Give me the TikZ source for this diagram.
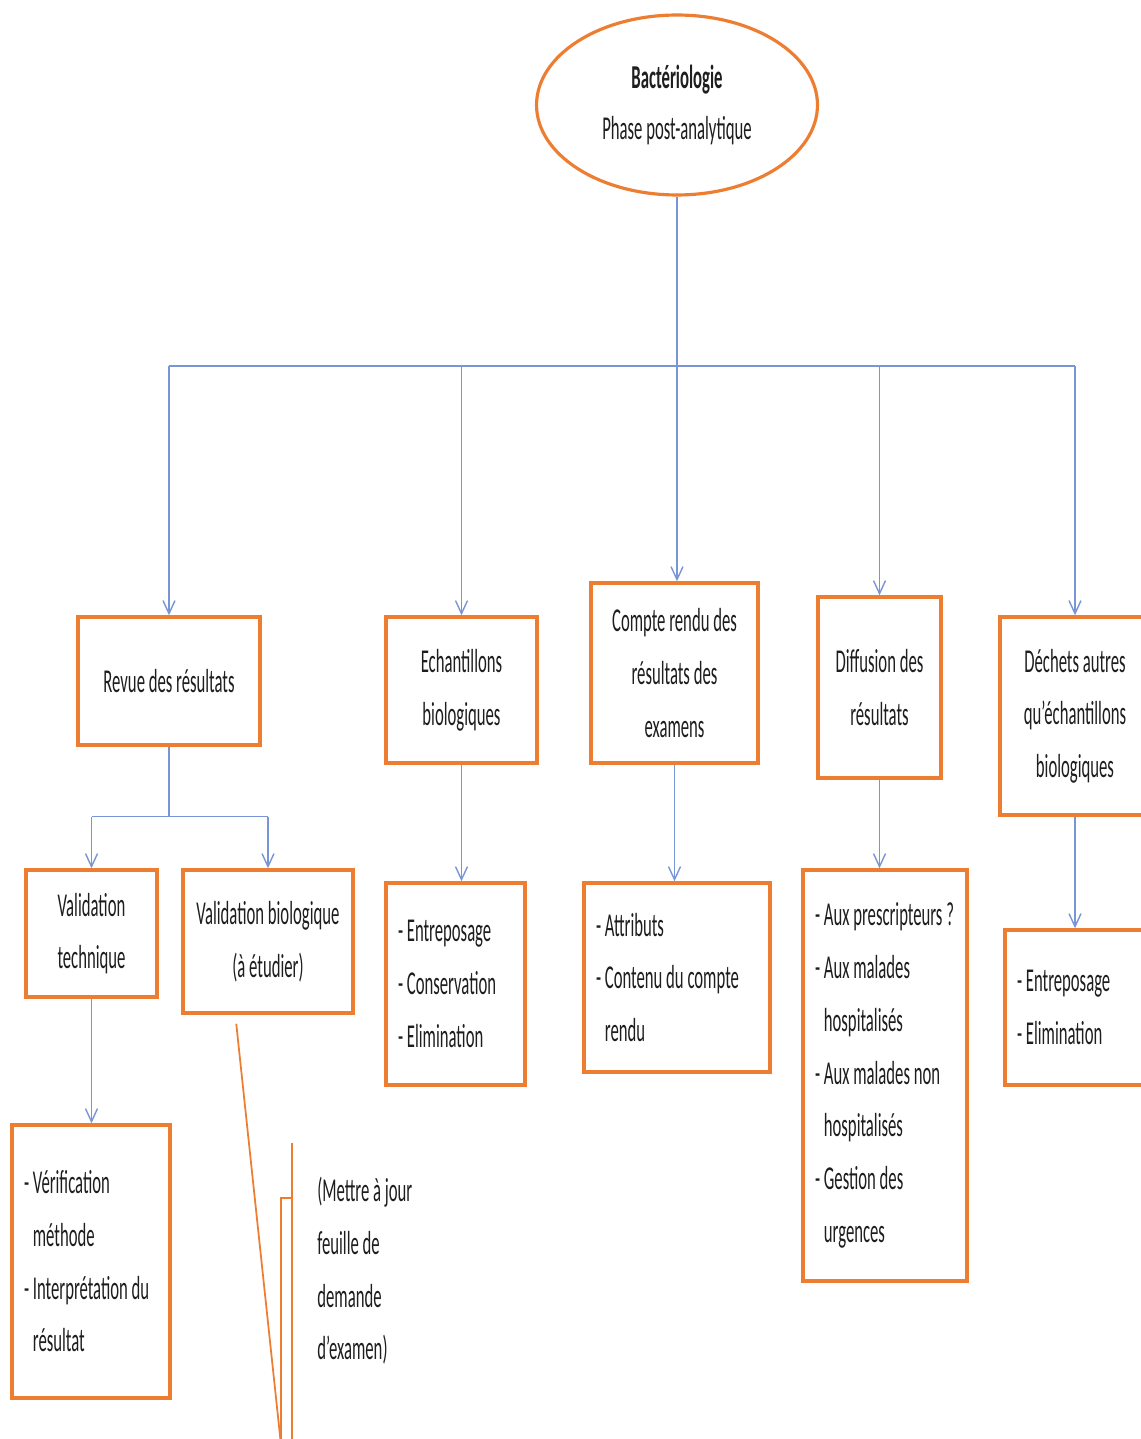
\documentclass[tikz,border=0pt]{standalone}
\usepackage{fontspec}
\setmainfont{Carlito}[FakeStretch=0.5]
\usetikzlibrary{positioning,arrows.meta,shapes.geometric,calc}
\definecolor{boxorange}{RGB}{237,125,49}
\definecolor{linkblue}{RGB}{120,150,215}
\definecolor{textgray}{RGB}{30,30,30}
\newcommand{\firstln}[1]{\mbox{- #1}}
\newcommand{\nextln}[1]{\mbox{\phantom{- }#1}}
\tikzset{
  titleoval/.style={draw=boxorange, line width=1.8pt, ellipse, fill=white, minimum width=5.62cm, minimum height=3.6cm, inner sep=0pt, align=center},
  orangebox/.style={draw=boxorange, line width=2pt, fill=white, align=center, inner sep=0pt},
  listbox/.style={draw=boxorange, line width=2pt, fill=white, align=flush left, inner xsep=0.24cm, inner ysep=0pt},
  blueline/.style={draw=linkblue, line width=0.8pt},
  bluearrow/.style={blueline, -{Straight Barb[length=2.6mm, width=2.4mm]}},
  calloutline/.style={draw=boxorange, line width=1pt},
  notetext/.style={align=flush left, inner sep=0pt}
}

\begin{document}
\begin{tikzpicture}[x=0.02cm, y=-0.02cm, every node/.style={font=\fontsize{19}{30}\selectfont, text=textgray}]
  \useasboundingbox[fill=white] (0,0) rectangle (1140,1439);

  % title
  \node[titleoval] (title) at (677,105) {\textbf{Bactériologie}\\[-1pt]Phase post-analytique};

  % first row
  \node[orangebox, minimum width=3.64cm, minimum height=2.56cm] (revue) at (169,681) {Revue des résultats};
  \node[orangebox, minimum width=3.02cm, minimum height=2.92cm] (echant) at (461.5,690) {Echantillons\\biologiques};
  \node[orangebox, minimum width=3.34cm, minimum height=3.6cm] (compte) at (674.5,673) {Compte rendu des\\résultats des\\examens};
  \node[orangebox, minimum width=2.46cm, minimum height=3.62cm] (diffus) at (879.5,687.5) {Diffusion des\\résultats};
  \node[orangebox, minimum width=3.0cm, minimum height=3.96cm] (dechets) at (1075,716) {Déchets autres\\qu'échantillons\\biologiques};

  % second row
  \node[orangebox, minimum width=2.62cm, minimum height=2.54cm] (vtech) at (91.5,933.5) {Validation\\technique};
  \node[orangebox, minimum width=3.4cm, minimum height=2.86cm] (vbio) at (268,941.5) {Validation biologique\\(à étudier)};
  \node[listbox, text width=2.30cm, minimum height=4.04cm] (echlist) at (455.5,984) {\firstln{Entreposage}\\\firstln{Conservation}\\\firstln{Elimination}};
  \node[listbox, text width=3.24cm, minimum height=3.78cm] (crlist) at (677,977.5) {\firstln{Attributs}\\\firstln{Contenu du compte}\\\nextln{rendu}};
  \node[listbox, text width=2.80cm, minimum height=8.22cm] (difflist) at (885,1075.5) {\firstln{Aux prescripteurs ?}\\\firstln{Aux malades}\\\nextln{hospitalisés}\\\firstln{Aux malades non}\\\nextln{hospitalisés}\\\firstln{Gestion des}\\\nextln{urgences}};
  \node[listbox, text width=2.42cm, minimum height=3.1cm] (dechlist) at (1077.5,1007.5) {\firstln{Entreposage}\\\firstln{Elimination}\\[6pt]};

  % third row
  \node[listbox, text width=2.68cm, minimum height=5.46cm] (verif) at (91,1261.5) {\firstln{Vérification}\\\nextln{méthode}\\\firstln{Interprétation du}\\\nextln{résultat}};
  \node[notetext, anchor=west] (callnote) at (317,1271) {(Mettre à jour\\feuille de\\demande\\d'examen)};

  % connectors
  \coordinate (bus) at (0,366);
  \draw[bluearrow] (title.south) -- (title.south |- compte.north);
  \draw[blueline] (revue.north |- bus) -- (dechets.north |- bus);
  \foreach \b in {revue,echant,diffus,dechets}
    \draw[bluearrow] (\b.north |- bus) -- (\b.north);

  \coordinate (split) at ($(revue.south)+(0,70)$);
  \draw[blueline] (revue.south) -- (split);
  \draw[blueline] (vtech.north |- split) -- (vbio.north |- split);
  \draw[bluearrow] (vtech.north |- split) -- (vtech.north);
  \draw[bluearrow] (vbio.north |- split) -- (vbio.north);

  \draw[bluearrow] (echant.south) -- (echant.south |- echlist.north);
  \draw[bluearrow] (compte.south) -- (compte.south |- crlist.north);
  \draw[bluearrow] (diffus.south) -- (diffus.south |- difflist.north);
  \draw[bluearrow] (dechets.south) -- (dechets.south |- dechlist.north);
  \draw[bluearrow] (vtech.south) -- (vtech.south |- verif.north);

  % callout
  \coordinate (calltip) at ($(vbio.south west)+(55,9)$);
  \coordinate (brtop) at (292,1143);
  \coordinate (brbot) at (292,1445);
  \coordinate (brknee) at (281,1198);
  \coordinate (brfoot) at (281,1445);
  \draw[calloutline] (calltip) -- (brfoot);
  \draw[calloutline, line width=1.4pt] (brtop) -- (brbot);
  \draw[calloutline] (brfoot) -- (brknee) -- (brtop |- brknee);
\end{tikzpicture}
\end{document}
